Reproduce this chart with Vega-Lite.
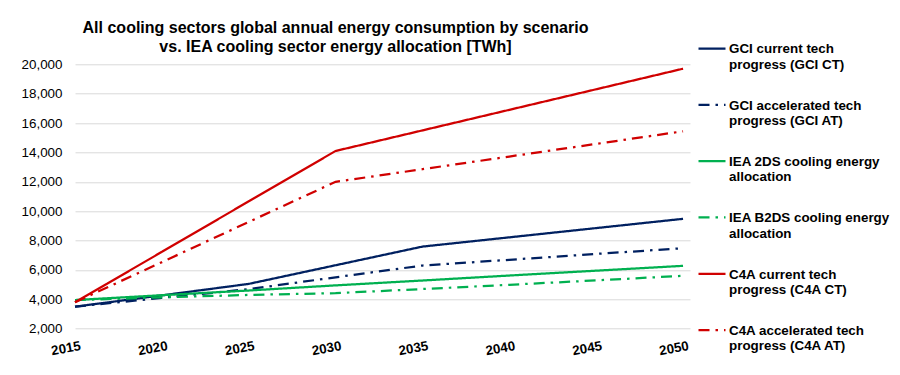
{
  "$schema": "https://vega.github.io/schema/vega-lite/v6.json",
  "width": 615,
  "height": 264.4,
  "autosize": {"type": "none"},
  "padding": {"left": 75, "top": 64.3, "right": 210, "bottom": 46.3},
  "background": "white",
  "config": {
    "view": {"stroke": null},
    "font": "Liberation Sans"
  },
  "title": {
    "text": ["All cooling sectors global annual energy consumption by scenario", "vs. IEA cooling sector energy allocation [TWh]"],
    "font": "Liberation Sans",
    "fontSize": 16,
    "fontWeight": "bold",
    "color": "#000000",
    "anchor": "middle",
    "dx": -47,
    "offset": -17,
    "lineHeight": 19
  },
  "data": {
    "values": [
      {"year": 2015, "series": "GCI current tech progress (GCI CT)", "value": 3500},
      {"year": 2020, "series": "GCI current tech progress (GCI CT)", "value": 4270},
      {"year": 2025, "series": "GCI current tech progress (GCI CT)", "value": 5050},
      {"year": 2030, "series": "GCI current tech progress (GCI CT)", "value": 6320},
      {"year": 2035, "series": "GCI current tech progress (GCI CT)", "value": 7590},
      {"year": 2040, "series": "GCI current tech progress (GCI CT)", "value": 8220},
      {"year": 2045, "series": "GCI current tech progress (GCI CT)", "value": 8850},
      {"year": 2050, "series": "GCI current tech progress (GCI CT)", "value": 9480},
      {"year": 2015, "series": "GCI accelerated tech progress (GCI AT)", "value": 3500},
      {"year": 2020, "series": "GCI accelerated tech progress (GCI AT)", "value": 4100},
      {"year": 2025, "series": "GCI accelerated tech progress (GCI AT)", "value": 4690},
      {"year": 2030, "series": "GCI accelerated tech progress (GCI AT)", "value": 5500},
      {"year": 2035, "series": "GCI accelerated tech progress (GCI AT)", "value": 6300},
      {"year": 2040, "series": "GCI accelerated tech progress (GCI AT)", "value": 6690},
      {"year": 2045, "series": "GCI accelerated tech progress (GCI AT)", "value": 7090},
      {"year": 2050, "series": "GCI accelerated tech progress (GCI AT)", "value": 7480},
      {"year": 2015, "series": "IEA 2DS cooling energy allocation", "value": 3950},
      {"year": 2020, "series": "IEA 2DS cooling energy allocation", "value": 4280},
      {"year": 2025, "series": "IEA 2DS cooling energy allocation", "value": 4600},
      {"year": 2030, "series": "IEA 2DS cooling energy allocation", "value": 4950},
      {"year": 2035, "series": "IEA 2DS cooling energy allocation", "value": 5280},
      {"year": 2040, "series": "IEA 2DS cooling energy allocation", "value": 5620},
      {"year": 2045, "series": "IEA 2DS cooling energy allocation", "value": 5950},
      {"year": 2050, "series": "IEA 2DS cooling energy allocation", "value": 6280},
      {"year": 2015, "series": "IEA B2DS cooling energy allocation", "value": 3950},
      {"year": 2020, "series": "IEA B2DS cooling energy allocation", "value": 4130},
      {"year": 2025, "series": "IEA B2DS cooling energy allocation", "value": 4300},
      {"year": 2030, "series": "IEA B2DS cooling energy allocation", "value": 4420},
      {"year": 2035, "series": "IEA B2DS cooling energy allocation", "value": 4700},
      {"year": 2040, "series": "IEA B2DS cooling energy allocation", "value": 4990},
      {"year": 2045, "series": "IEA B2DS cooling energy allocation", "value": 5290},
      {"year": 2050, "series": "IEA B2DS cooling energy allocation", "value": 5600},
      {"year": 2015, "series": "C4A current tech progress (C4A CT)", "value": 3800},
      {"year": 2020, "series": "C4A current tech progress (C4A CT)", "value": 7230},
      {"year": 2025, "series": "C4A current tech progress (C4A CT)", "value": 10670},
      {"year": 2030, "series": "C4A current tech progress (C4A CT)", "value": 14100},
      {"year": 2035, "series": "C4A current tech progress (C4A CT)", "value": 15500},
      {"year": 2040, "series": "C4A current tech progress (C4A CT)", "value": 16900},
      {"year": 2045, "series": "C4A current tech progress (C4A CT)", "value": 18300},
      {"year": 2050, "series": "C4A current tech progress (C4A CT)", "value": 19700},
      {"year": 2015, "series": "C4A accelerated tech progress (C4A AT)", "value": 3800},
      {"year": 2020, "series": "C4A accelerated tech progress (C4A AT)", "value": 6530},
      {"year": 2025, "series": "C4A accelerated tech progress (C4A AT)", "value": 9270},
      {"year": 2030, "series": "C4A accelerated tech progress (C4A AT)", "value": 12000},
      {"year": 2035, "series": "C4A accelerated tech progress (C4A AT)", "value": 12860},
      {"year": 2040, "series": "C4A accelerated tech progress (C4A AT)", "value": 13720},
      {"year": 2045, "series": "C4A accelerated tech progress (C4A AT)", "value": 14580},
      {"year": 2050, "series": "C4A accelerated tech progress (C4A AT)", "value": 15440}
    ]
  },
  "mark": {"type": "line", "strokeWidth": 2.25, "strokeCap": "butt", "clip": false},
  "encoding": {
    "x": {
      "field": "year",
      "type": "quantitative",
      "scale": {"domain": [2015, 2050.4], "nice": false, "zero": false},
      "axis": {
        "title": null,
        "values": [2015, 2020, 2025, 2030, 2035, 2040, 2045, 2050],
        "format": "d",
        "grid": false,
        "domain": false,
        "ticks": false,
        "labelFont": "Liberation Sans",
        "labelFontSize": 13.4,
        "labelFontWeight": "bold",
        "labelColor": "#000000",
        "labelAngle": -10,
        "labelAlign": "right",
        "labelBaseline": "top",
        "labelPadding": 10,
        "labelOffset": 4,
        "labelOverlap": false,
        "labelFlush": false
      }
    },
    "y": {
      "field": "value",
      "type": "quantitative",
      "scale": {"domain": [2000, 20000], "nice": false, "zero": false},
      "axis": {
        "title": null,
        "values": [2000, 4000, 6000, 8000, 10000, 12000, 14000, 16000, 18000, 20000],
        "format": ",d",
        "grid": true,
        "gridColor": "#d9d9d9",
        "gridWidth": 1,
        "domain": false,
        "ticks": false,
        "labelFont": "Liberation Sans",
        "labelFontSize": 13.4,
        "labelColor": "#000000",
        "labelPadding": 13
      }
    },
    "color": {
      "field": "series",
      "type": "nominal",
      "sort": null,
      "scale": {
        "domain": ["GCI current tech progress (GCI CT)", "GCI accelerated tech progress (GCI AT)", "IEA 2DS cooling energy allocation", "IEA B2DS cooling energy allocation", "C4A current tech progress (C4A CT)", "C4A accelerated tech progress (C4A AT)"],
        "range": ["#002060", "#002060", "#00B050", "#00B050", "#D00000", "#D00000"]
      },
      "legend": {
        "title": null,
        "orient": "none",
        "legendX": 622,
        "legendY": -26,
        "symbolType": "M-1,-0.35L1,-0.35",
        "symbolSize": 729,
        "symbolStrokeWidth": 2.25,
        "labelFont": "Liberation Sans",
        "labelFontSize": 13.4,
        "labelFontWeight": "bold",
        "labelColor": "#000000",
        "labelBaseline": "alphabetic",
        "labelLimit": 260,
        "labelOffset": 2,
        "rowPadding": 23.3,
        "labelExpr": "indexof(datum.label, ' progress') > 0 ? [substring(datum.label, 0, indexof(datum.label, ' progress')), substring(datum.label, indexof(datum.label, ' progress') + 1)] : [substring(datum.label, 0, indexof(datum.label, ' allocation')), substring(datum.label, indexof(datum.label, ' allocation') + 1)]"
      }
    },
    "strokeDash": {
      "field": "series",
      "type": "nominal",
      "sort": null,
      "scale": {
        "domain": ["GCI current tech progress (GCI CT)", "GCI accelerated tech progress (GCI AT)", "IEA 2DS cooling energy allocation", "IEA B2DS cooling energy allocation", "C4A current tech progress (C4A CT)", "C4A accelerated tech progress (C4A AT)"],
        "range": [[1, 0], [11, 6, 2.5, 6], [1, 0], [11, 6, 2.5, 6], [1, 0], [11, 6, 2.5, 6]]
      },
      "legend": null
    }
  }
}
